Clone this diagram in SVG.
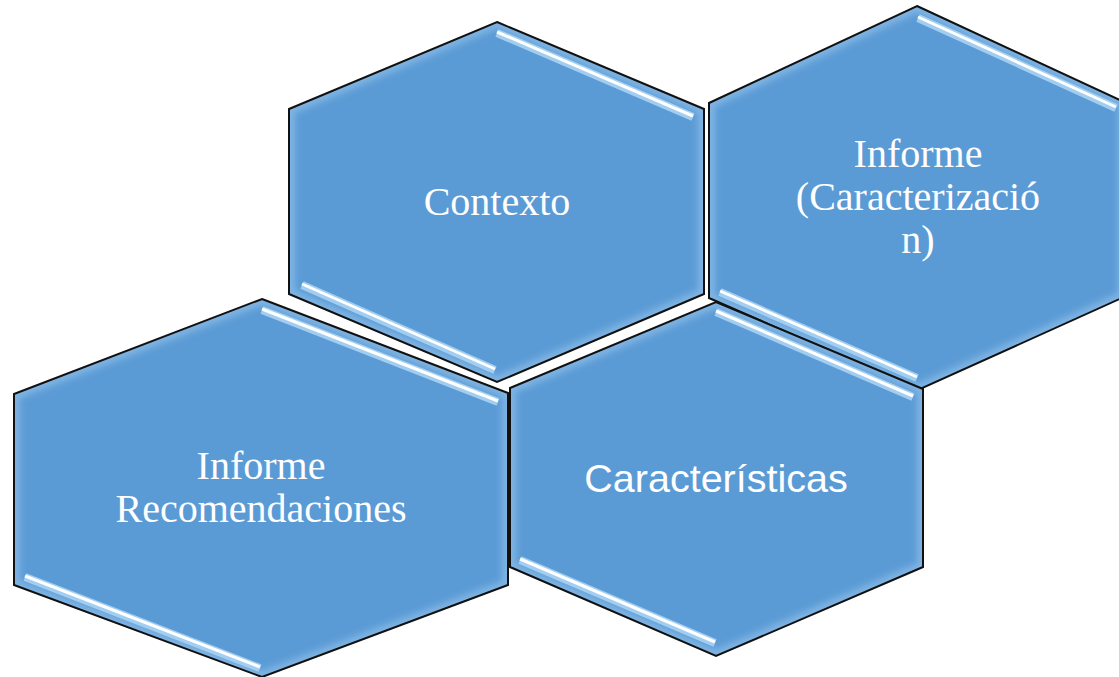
<svg xmlns="http://www.w3.org/2000/svg" width="1119" height="677" viewBox="0 0 1119 677">
  <style>
    .hex { fill: #5b9bd5; }
    .bevel { fill: none; stroke: #9cc8ef; stroke-width: 12; stroke-opacity: 0.55; filter: url(#soft); }
    .edge { fill: none; stroke: #111; stroke-width: 2; stroke-linejoin: miter; }
    .glow { stroke: #a9d3f5; stroke-width: 8; stroke-linecap: butt; opacity: 0.9; }
    .shine { stroke: #ffffff; stroke-width: 3; stroke-linecap: butt; }
    .serif { font-family: "Liberation Serif", "Times New Roman", serif; font-size: 40px; fill: #ffffff; text-anchor: middle; }
    .sans { font-family: "Liberation Sans", Arial, sans-serif; font-size: 39.5px; fill: #ffffff; text-anchor: middle; }
  </style>
  <defs>
    <filter id="soft" x="-10%" y="-10%" width="120%" height="120%">
      <feGaussianBlur stdDeviation="3"/>
    </filter>
    <polygon id="p1" points="497,22 704,109 704,294 497,382 289,294 289,109"/>
    <polygon id="p2" points="917,6 1124,102 1124,297 918,390 709,298 709,103"/>
    <polygon id="p3" points="262,299 508,393 508,585 262,677 14,585 14,394"/>
    <polygon id="p4" points="716,302 923,389 923,567 716,656 510,567 510,388"/>
    <clipPath id="c1"><use href="#p1"/></clipPath>
    <clipPath id="c2"><use href="#p2"/></clipPath>
    <clipPath id="c3"><use href="#p3"/></clipPath>
    <clipPath id="c4"><use href="#p4"/></clipPath>
  </defs>

  <g id="connectors"></g>

  <g id="node-contexto">
    <use href="#p1" class="hex"/>
    <g clip-path="url(#c1)"><use href="#p1" class="bevel"/></g>
    <line class="glow" x1="497" y1="33" x2="693" y2="117"/>
    <line class="shine" x1="497" y1="32" x2="693" y2="116"/>
    <line class="glow" x1="302" y1="285" x2="495" y2="370"/>
    <line class="shine" x1="302" y1="284" x2="495" y2="369"/>
    <use href="#p1" class="edge"/>
    <text class="serif" x="497" y="215">Contexto</text>
  </g>

  <g id="node-informe-caracterizacion">
    <use href="#p2" class="hex"/>
    <g clip-path="url(#c2)"><use href="#p2" class="bevel"/></g>
    <line class="glow" x1="918" y1="18" x2="1116" y2="108"/>
    <line class="shine" x1="918" y1="17" x2="1116" y2="107"/>
    <line class="glow" x1="720" y1="292" x2="917" y2="378"/>
    <line class="shine" x1="720" y1="291" x2="917" y2="377"/>
    <use href="#p2" class="edge"/>
    <text class="serif" x="918" y="167">Informe</text>
    <text class="serif" x="918" y="210">(Caracterizació</text>
    <text class="serif" x="918" y="253">n)</text>
  </g>

  <g id="node-informe-recomendaciones">
    <use href="#p3" class="hex"/>
    <g clip-path="url(#c3)"><use href="#p3" class="bevel"/></g>
    <line class="glow" x1="262" y1="310" x2="498" y2="402"/>
    <line class="shine" x1="262" y1="309" x2="498" y2="401"/>
    <line class="glow" x1="25" y1="577" x2="260" y2="668"/>
    <line class="shine" x1="25" y1="576" x2="260" y2="667"/>
    <use href="#p3" class="edge"/>
    <text class="serif" x="261" y="479">Informe</text>
    <text class="serif" x="261" y="522">Recomendaciones</text>
  </g>

  <g id="node-caracteristicas">
    <use href="#p4" class="hex"/>
    <g clip-path="url(#c4)"><use href="#p4" class="bevel"/></g>
    <line class="glow" x1="716" y1="312" x2="913" y2="397"/>
    <line class="shine" x1="716" y1="311" x2="913" y2="396"/>
    <line class="glow" x1="520" y1="560" x2="715" y2="643"/>
    <line class="shine" x1="520" y1="559" x2="715" y2="642"/>
    <use href="#p4" class="edge"/>
    <text class="sans" x="716" y="492">Características</text>
  </g>
</svg>
